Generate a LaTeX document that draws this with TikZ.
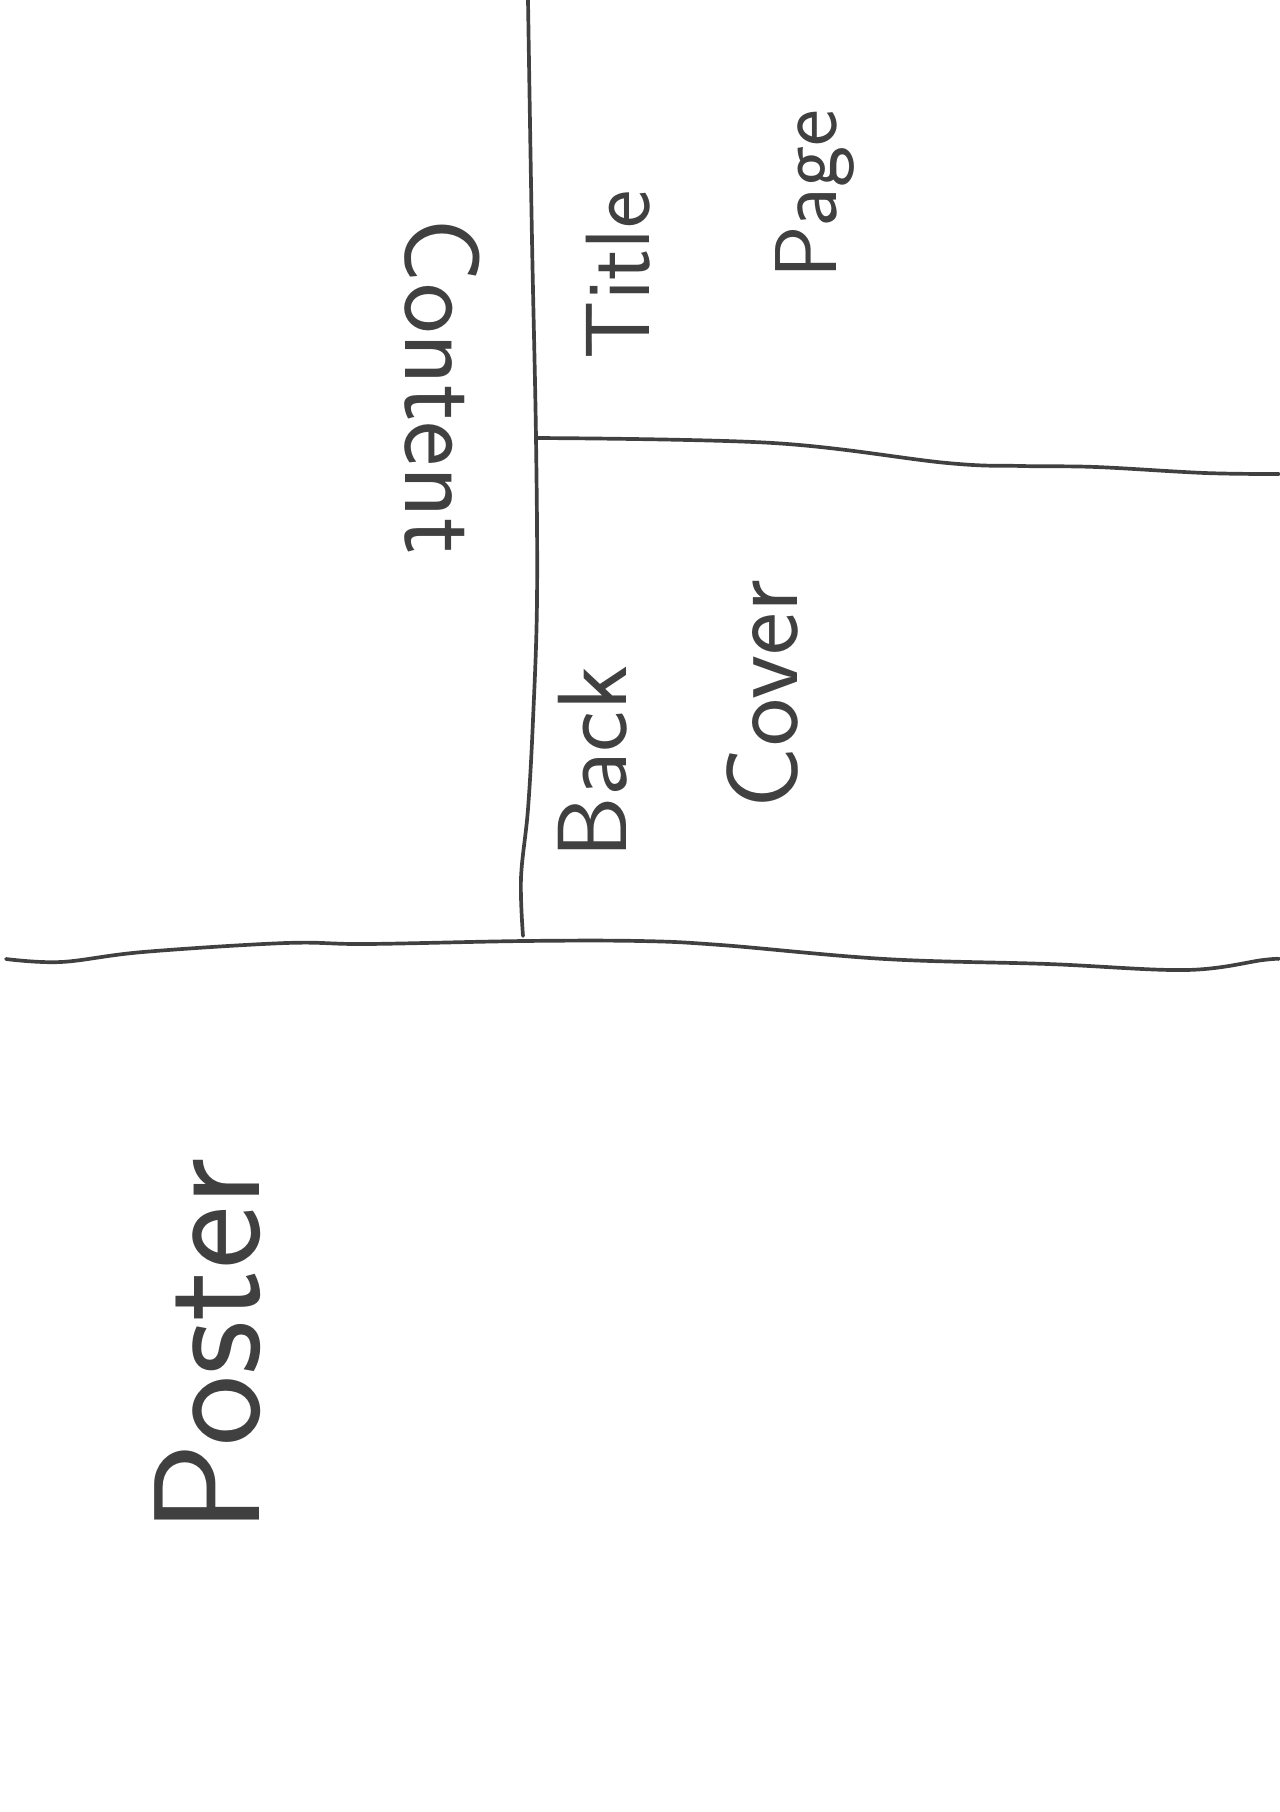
\documentclass[tikz,border=0pt]{standalone}
\usepackage{tikz}

\tikzset{
  fold/.style={black!75,line width=2.1pt,line cap=round},
  word/.style={black!75,font=\sffamily\fontsize{#1}{#1}\selectfont,inner sep=0pt}
}

\begin{document}
\begin{tikzpicture}[x=0.02cm,y=-0.02cm]
\useasboundingbox (0,0) rectangle (1279,1812);
\draw[fold] plot[smooth,tension=0.6] coordinates {(528,0) (532,240) (536,438) (537,600) (533,720) (528,809) (521,878) (523,936)};
\draw[fold] plot[smooth,tension=0.6] coordinates {(536,438) (773,443) (947,463) (1022,466) (1096,467) (1205,473) (1279,474)};
\draw[fold] plot[smooth,tension=0.6] coordinates {(6,959) (61,962) (143,952) (286,943) (367,944) (524,941) (640,941) (721,945) (885,959) (1048,964) (1186,970) (1263,960) (1279,959)};
\node[word=61,rotate=-90] (content) at (442,387) {Content};
\node[word=52,rotate=90] (title) at (618,275) {Title};
\node[word=50,rotate=90] (page) at (815,194) {Page};
\node[word=56,rotate=90] (back) at (593,762) {Back};
\node[word=58,rotate=90] (cover) at (762,694) {Cover};
\node[word=86,rotate=90] (poster) at (208,1346) {Poster};

\end{tikzpicture}
\end{document}
